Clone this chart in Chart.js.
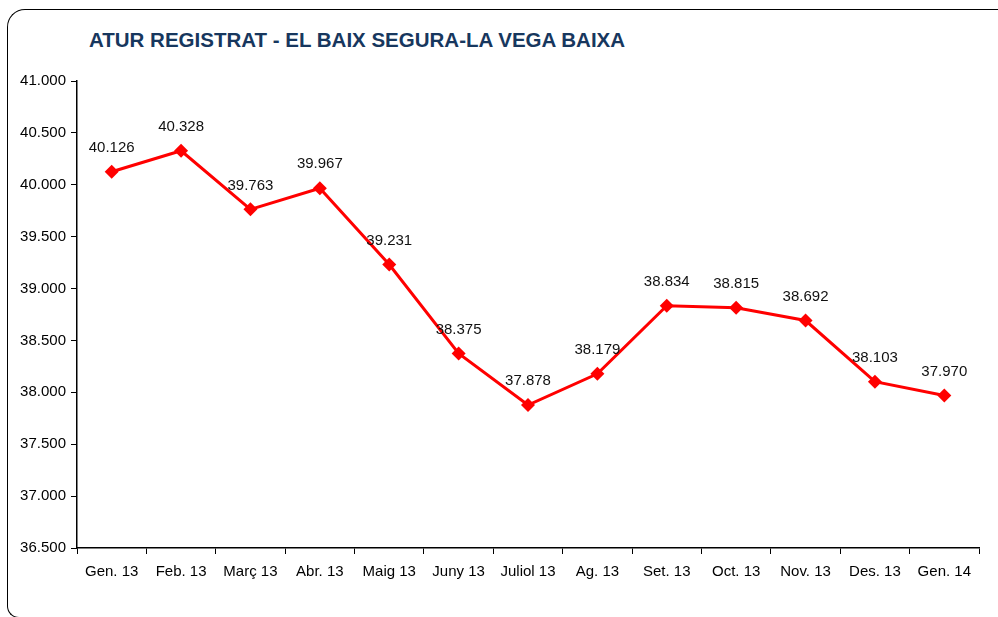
<!DOCTYPE html>
<html>
<head>
<meta charset="utf-8">
<script src="https://cdn.jsdelivr.net/npm/chart.js@4"></script>
<style>
  html, body { margin: 0; padding: 0; background: #fff; }
  #wrap { position: relative; width: 998px; height: 617px; overflow: hidden; }
  #frame {
    position: absolute; left: 7px; top: 9px; width: 1100px; height: 609px;
    border: 1.5px solid #000; border-right: none;
    border-radius: 18px 0 0 12px; box-sizing: border-box;
  }
  #title {
    position: absolute; left: 89px; top: 28px;
    font: bold 20.5px "Liberation Sans", Arial, sans-serif; color: #17375E;
  }
  canvas { position: absolute; left: 0; top: 0; }
</style>
</head>
<body>
<div id="wrap">
  <div id="frame"></div>
  <div id="title">ATUR REGISTRAT - EL BAIX SEGURA-LA VEGA BAIXA</div>
  <canvas id="aturChart" width="998" height="617"></canvas>
</div>
<script>
const months = ['Gen. 13', 'Feb. 13', 'Març 13', 'Abr. 13', 'Maig 13', 'Juny 13', 'Juliol 13',
                'Ag. 13', 'Set. 13', 'Oct. 13', 'Nov. 13', 'Des. 13', 'Gen. 14'];
const aturValues = [40126, 40328, 39763, 39967, 39231, 38375, 37878, 38179, 38834, 38815, 38692, 38103, 37970];
const yMin = 36500;
const yMax = 41000;
const yStep = 500;

const fmt = v => v.toLocaleString('de-DE');
const FONT = '"Liberation Sans", Arial, sans-serif';

// value labels above each marker
const valueLabels = {
    id: 'valueLabels',
    afterDatasetsDraw(chart) {
        const ctx = chart.ctx;
        const meta = chart.getDatasetMeta(0);
        ctx.save();
        ctx.font = '15px ' + FONT;
        ctx.fillStyle = '#111';
        ctx.textAlign = 'center';
        ctx.textBaseline = 'middle';
        meta.data.forEach((pt, i) => {
            ctx.fillText(fmt(aturValues[i]), pt.x, pt.y - 24);
        });
        ctx.restore();
    }
};

const ctx = document.getElementById('aturChart').getContext('2d');
new Chart(ctx, {
    type: 'line',
    data: {
        labels: months,
        datasets: [{
            data: aturValues,
            borderColor: '#FF0000',
            backgroundColor: '#FF0000',
            borderWidth: 3,
            pointStyle: 'rectRot',
            pointRadius: 7,
            pointBorderWidth: 0,
            tension: 0
        }]
    },
    options: {
        responsive: false,
        animation: false,
        layout: { padding: { left: 0, top: 81, right: 19, bottom: 29 } },
        plugins: {
            legend: { display: false },
            tooltip: { enabled: false }
        },
        scales: {
            x: {
                offset: true,
                grid: { offset: true, drawOnChartArea: false, drawTicks: true, tickLength: 6, color: '#000' },
                border: { display: true, color: '#000', width: 1.5 },
                ticks: { color: '#000', padding: 9, font: { family: FONT, size: 15 } },
                afterFit(scale) { scale.height = 40; }
            },
            y: {
                min: yMin,
                max: yMax,
                grid: { drawOnChartArea: false, drawTicks: true, tickLength: 6, color: '#000' },
                border: { display: true, color: '#000', width: 1.5 },
                ticks: {
                    stepSize: yStep,
                    color: '#000',
                    padding: 5,
                    font: { family: FONT, size: 15 },
                    callback: v => fmt(v)
                },
                afterFit(scale) { scale.width = 77; }
            }
        }
    },
    plugins: [valueLabels]
});
</script>
</body>
</html>
